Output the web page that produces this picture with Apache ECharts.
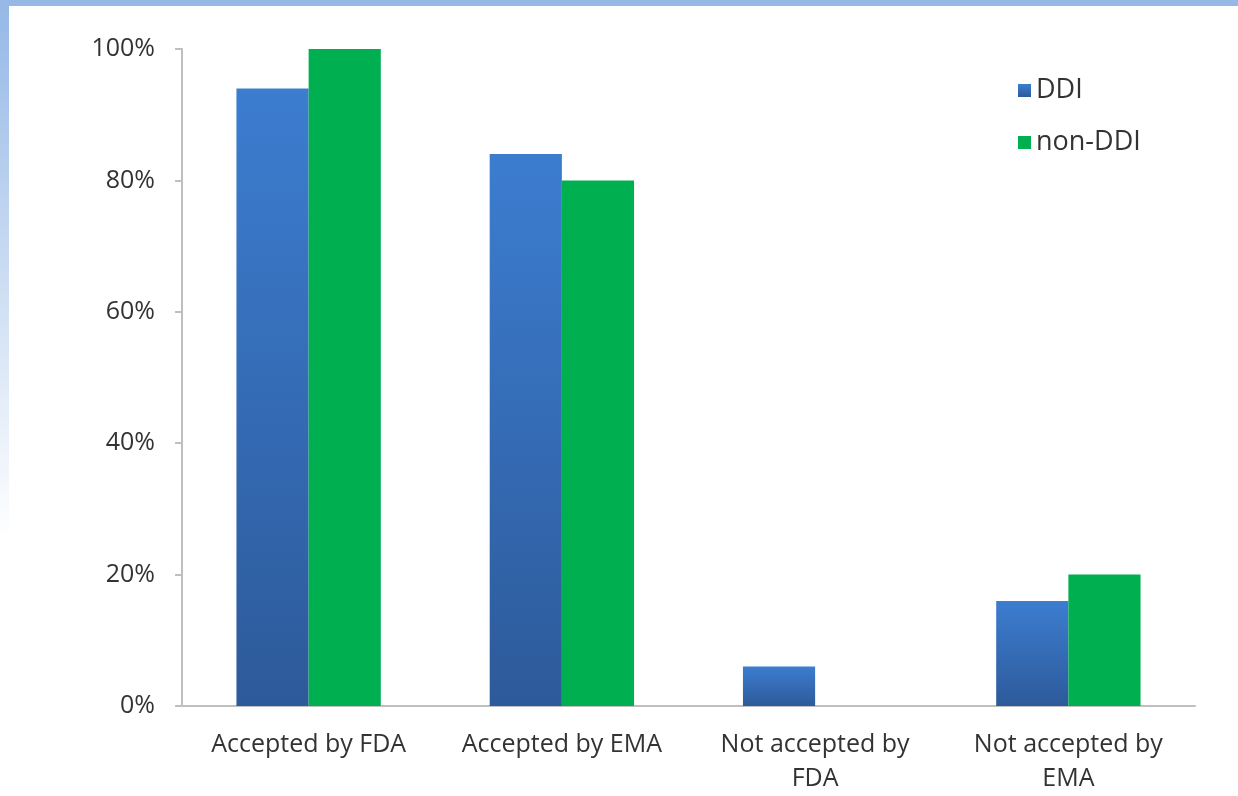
<!DOCTYPE html>
<html><head><meta charset="utf-8">
<script src="https://cdn.jsdelivr.net/npm/echarts@6/dist/echarts.min.js"></script>
<style>html,body{margin:0;padding:0;background:#fff}#c{width:1238px;height:796px}</style>
</head><body><div id="c"></div>
<script>
const categories = ['Accepted by FDA', 'Accepted by EMA', 'Not accepted by\nFDA', 'Not accepted by\nEMA'];
const ddi = [94, 84, 6, 16];
const nonDdi = [100, 80, 0, 20];
const yTicks = [0, 20, 40, 60, 80, 100];

const chart = echarts.init(document.getElementById('c'));
const font = 'Open Sans';
chart.setOption({
  animation: false,
  backgroundColor: '#fff',
  graphic: [
    { type: 'rect', shape: { x: 0, y: 0, width: 1238, height: 6 }, style: { fill: '#95b8e6' } },
    { type: 'rect', shape: { x: 0, y: 0, width: 9, height: 540 },
      style: { fill: new echarts.graphic.LinearGradient(0, 0, 0, 1, [
        { offset: 0, color: '#95b8e6' }, { offset: 1, color: '#ffffff' }]) } }
  ],
  legend: {
    orient: 'vertical', left: 1013, top: 72, itemGap: 25, itemWidth: 13, itemHeight: 13,
    itemStyle: { borderWidth: 0 },
    icon: 'rect',
    textStyle: { fontFamily: font, fontSize: 27, color: '#333' },
    data: ['DDI', 'non-DDI']
  },
  grid: { left: 182, right: 43, top: 49, bottom: 89, containLabel: false },
  xAxis: {
    type: 'category', data: categories,
    axisLine: { lineStyle: { color: '#bfbfbf', width: 2 } },
    axisTick: { show: false },
    axisLabel: { interval: 0, fontFamily: font, fontSize: 25, color: '#333', margin: 22, lineHeight: 34 }
  },
  yAxis: {
    type: 'value', min: 0, max: 100, interval: 20,
    axisLine: { show: true, lineStyle: { color: '#bfbfbf', width: 2 } },
    axisTick: { show: true, length: 7, lineStyle: { color: '#bfbfbf', width: 2 } },
    splitLine: { show: false },
    axisLabel: { fontFamily: font, fontSize: 25, color: '#333', margin: 27,
      formatter: v => yTicks.includes(v) ? v + '%' : '' }
  },
  series: [
    { name: 'DDI', type: 'bar', data: ddi, barGap: '0%', barCategoryGap: '43%',
      itemStyle: { color: new echarts.graphic.LinearGradient(0, 0, 0, 1, [
        { offset: 0, color: '#3c7dd0' }, { offset: 1, color: '#2d5a9a' }]) } },
    { name: 'non-DDI', type: 'bar', data: nonDdi, barGap: '0%', barCategoryGap: '43%',
      itemStyle: { color: '#00b050' } }
  ]
});
</script></body></html>
